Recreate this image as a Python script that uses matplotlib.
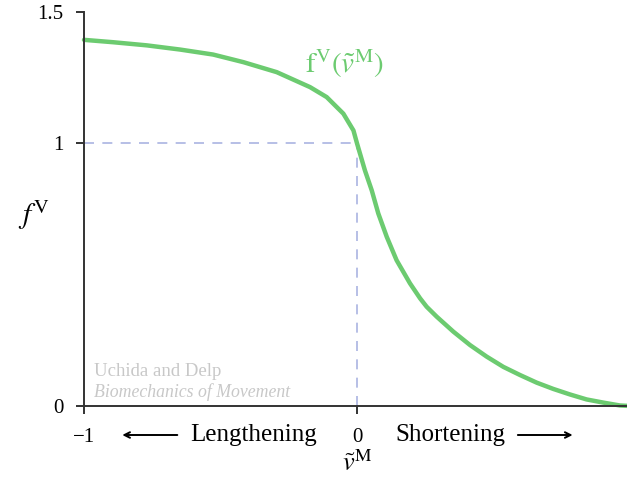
import numpy as np
import matplotlib.pyplot as plt
from matplotlib import transforms

plt.rcParams['font.family'] = ['Liberation Serif', 'DejaVu Serif']
plt.rcParams['mathtext.fontset'] = 'stix'

# Force-velocity curve
velocity = [-1.0, -0.894, -0.770, -0.648, -0.527, -0.416, -0.294, -0.172,
            -0.111, -0.050, -0.013, 0.0, 0.029, 0.054, 0.078, 0.109,
            0.145, 0.194, 0.231, 0.255, 0.292, 0.353, 0.414, 0.475,
            0.536, 0.597, 0.658, 0.719, 0.780, 0.841, 0.902, 0.963, 1.0]
force = [1.394, 1.385, 1.373, 1.357, 1.338, 1.309, 1.271, 1.214,
         1.176, 1.113, 1.049, 1.0, 0.897, 0.821, 0.733, 0.644,
         0.555, 0.467, 0.410, 0.378, 0.340, 0.283, 0.232, 0.188,
         0.149, 0.118, 0.089, 0.065, 0.044, 0.025, 0.013, 0.002, 0.0]

xticks = [-1, 0, 1]
xticklabels = ['\u22121', '0', '1']
yticks = [0, 1, 1.5]
yticklabels = ['0', '1', '1.5']

green = '#6ccb70'
dash_col = '#aab4e2'
axis_col = '#333333'

fig = plt.figure(figsize=(6.27, 4.79), dpi=100)
ax = fig.add_axes([84 / 627, 1 - 406 / 479, 546 / 627, 394 / 479])

ax.plot([-1, 0], [1, 1], color=dash_col, lw=1.2, ls=(0, (6, 5)))
ax.plot([0, 0], [0, 1], color=dash_col, lw=1.2, ls=(0, (6, 5)))
ax.plot(velocity, force, color=green, lw=3.2, solid_capstyle='round',
        solid_joinstyle='round', clip_on=False)

ax.set_xlim(-1, 1)
ax.set_ylim(0, 1.5)
ax.set_xticks(xticks)
ax.set_xticklabels(xticklabels, fontsize=15)
ax.set_yticks(yticks)
ax.set_yticklabels(yticklabels, fontsize=15)
ax.tick_params(axis='both', direction='out', length=6, width=1.4, color=axis_col)
ax.tick_params(axis='x', pad=10)
ax.tick_params(axis='y', pad=9)

for side in ['top', 'right']:
    ax.spines[side].set_visible(False)
for side in ['left', 'bottom']:
    ax.spines[side].set_color(axis_col)
    ax.spines[side].set_linewidth(1.4)

# curve label
ax.text(-0.19, 1.24, r'$\mathrm{f}^{\mathrm{V}}(\tilde{v}^{\mathrm{M}})$', color=green,
        fontsize=21, ha='left', va='bottom')

# axis labels
fig.text(34 / 627, 1 - 215 / 479, r'$f^{\mathrm{V}}$', fontsize=21, ha='center', va='center')
trans = transforms.blended_transform_factory(ax.transData, fig.transFigure)
ax.text(0, 1 - 463 / 479, r'$\tilde{v}^{\mathrm{M}}$', transform=trans, fontsize=19,
        ha='center', va='center')

ax.text(-0.377, 1 - 435 / 479, 'Lengthening', transform=trans, fontsize=18,
        ha='center', va='center')
ax.text(0.341, 1 - 435 / 479, 'Shortening', transform=trans, fontsize=18,
        ha='center', va='center')
ax.annotate('', xy=(-0.87, 1 - 435 / 479), xytext=(-0.648, 1 - 435 / 479),
            xycoords=trans, textcoords=trans,
            arrowprops=dict(arrowstyle='->', lw=1.4, color='black'))
ax.annotate('', xy=(0.80, 1 - 435 / 479), xytext=(0.579, 1 - 435 / 479),
            xycoords=trans, textcoords=trans,
            arrowprops=dict(arrowstyle='->', lw=1.4, color='black'))

# watermark
ax.text(-0.965, 0.115, 'Uchida and Delp', color='#c8c8c8', fontsize=13.5)
ax.text(-0.965, 0.035, 'Biomechanics of Movement', color='#c8c8c8', fontsize=12.8,
        style='italic')

fig.savefig('out.png', dpi=100)
